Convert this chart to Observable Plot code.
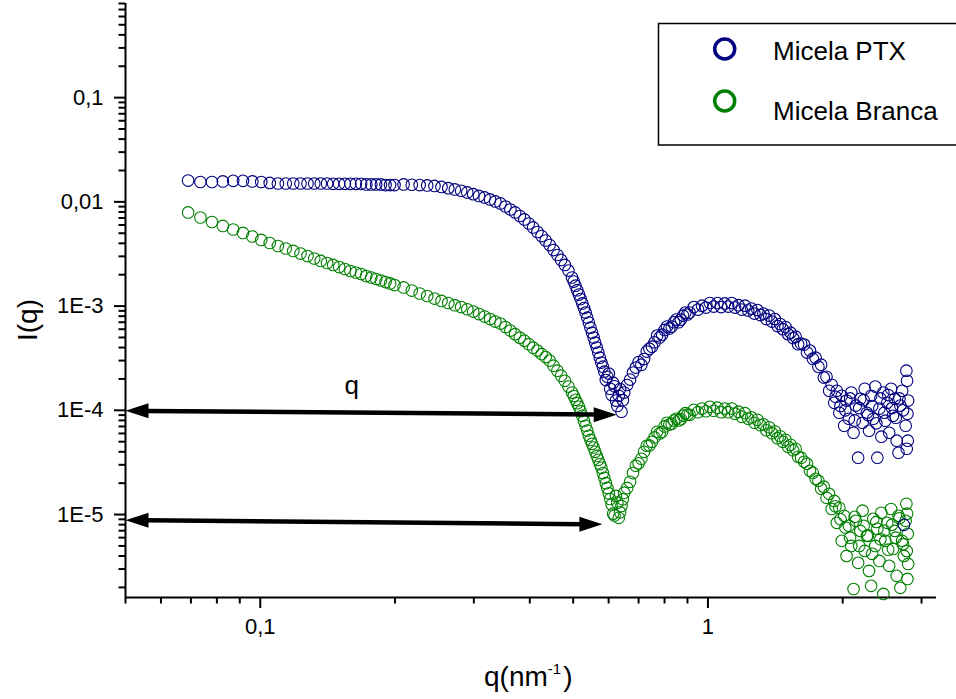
<!DOCTYPE html>
<html>
<head>
<meta charset="utf-8">
<script src="https://cdn.jsdelivr.net/npm/d3@7"></script>
<script src="https://cdn.jsdelivr.net/npm/@observablehq/plot@0.6"></script>
<style>
  html, body { margin: 0; padding: 0; background: #ffffff; }
  svg { display: block; }
</style>
</head>
<body>
<div id="chart"></div>
<script>
// ---------- data ----------
const seriesNames = ["Micela PTX", "Micela Branca"];
const seriesColors = ["#000080", "#008000"];

const qValues = [
  0.069, 0.0735, 0.078, 0.0825, 0.087, 0.0915, 0.096, 0.1005, 0.105, 0.1095,
  0.114, 0.1185, 0.123, 0.1275, 0.132, 0.1365, 0.141, 0.1455, 0.15, 0.1545,
  0.159, 0.1635, 0.168, 0.1725, 0.177, 0.1815, 0.186, 0.1905, 0.195, 0.1995,
  0.209, 0.218, 0.227, 0.236, 0.245, 0.254, 0.263, 0.272, 0.281, 0.29,
  0.299, 0.308, 0.317, 0.326, 0.335, 0.344, 0.353, 0.362, 0.371, 0.38,
  0.389, 0.398, 0.407, 0.416, 0.425, 0.434, 0.443, 0.452, 0.461, 0.47,
  0.479, 0.488, 0.497, 0.506, 0.515, 0.524, 0.533, 0.542, 0.551, 0.56,
  0.569, 0.578, 0.587, 0.596, 0.605, 0.614, 0.623, 0.632, 0.641, 0.65,
  0.67, 0.69, 0.71, 0.73, 0.75, 0.77, 0.79, 0.81, 0.83, 0.85,
  0.87, 0.89, 0.91, 0.93, 0.95, 0.97, 0.99, 1.01, 1.03, 1.05,
  1.07, 1.09, 1.11, 1.13, 1.15, 1.17, 1.19, 1.21, 1.23, 1.25,
  1.27, 1.29, 1.31, 1.33, 1.35, 1.37, 1.39, 1.41, 1.43, 1.45,
  1.47, 1.49, 1.51, 1.53, 1.55, 1.57, 1.59,
  1.615, 1.64, 1.665, 1.69, 1.715, 1.74, 1.765, 1.79, 1.815, 1.84,
  1.865, 1.89, 1.915, 1.94, 1.965, 1.99, 2.015, 2.04, 2.065, 2.09,
  2.115, 2.14, 2.165, 2.19, 2.215, 2.24, 2.265, 2.29, 2.315, 2.34,
  2.365, 2.39, 2.415, 2.44, 2.465, 2.49, 2.515, 2.54, 2.565, 2.59,
  2.615, 2.64, 2.665, 2.69, 2.715, 2.74, 2.765, 2.775, 2.78, 2.785,
  2.79, 2.795, 2.8,
  // in-between points of the steep parts and of the noisy tail
  0.5015, 0.5105, 0.5195, 0.5285, 0.5375, 0.5465, 0.5555, 0.5645, 0.5735, 0.5825,
  0.5915, 0.6005, 0.6095, 0.6185, 0.6275, 0.6365, 0.6455,
  0.66, 0.68, 0.70, 0.72, 0.74, 0.76, 0.78, 0.80, 0.82, 0.84, 0.86, 0.88, 0.90,
  1.9275, 1.9775, 2.0275, 2.0775, 2.1275, 2.1775, 2.2275, 2.2775, 2.3275, 2.3775,
  2.4275, 2.4775, 2.5275, 2.5775, 2.6275, 2.6775, 2.7275
];

const ptxValues = [
  0.0160, 0.0155, 0.0155, 0.0157, 0.0159, 0.0159, 0.0157, 0.0155, 0.0152, 0.0150,
  0.0150, 0.0150, 0.0150, 0.0150, 0.0150, 0.0150, 0.0150, 0.0149, 0.0149, 0.0149,
  0.0149, 0.0149, 0.0149, 0.0147, 0.0147, 0.0147, 0.0147, 0.0145, 0.0145, 0.0145,
  0.0147, 0.0146, 0.0145, 0.01437, 0.01421, 0.0139, 0.01354, 0.01316, 0.01278, 0.01231,
  0.01186, 0.0114, 0.01103, 0.01055, 0.01009, 0.00965, 0.00903, 0.00845, 0.00791, 0.00732,
  0.00678, 0.0062, 0.00568, 0.00514, 0.0047, 0.00426, 0.00385, 0.00345, 0.00309, 0.00277,
  0.00248, 0.00219, 0.00188, 0.00157, 0.00129, 0.00106, 0.000866, 0.000694, 0.000556, 0.000446,
  0.000358, 0.000287, 0.000235, 0.00021, 0.000161, 0.000184, 0.000124, 0.000138, 0.0000969, 0.000148,
  1.97e-4, 2.57e-4, 2.74e-4, 3.66e-4, 4.08e-4, 5.21e-4, 5.32e-4, 6.36e-4, 6.36e-4, 7.42e-4,
  7.42e-4, 8.66e-4, 8.66e-4, 9.78e-4, 9.26e-4, 1.01e-3, 9.67e-4, 1.07e-3, 9.89e-4, 1.07e-3,
  9.78e-4, 1.06e-3, 9.89e-4, 1.07e-3, 9.67e-4, 1.02e-3, 9.26e-4, 1.01e-3, 9.05e-4, 9.46e-4,
  8.47e-4, 9.15e-4, 8.20e-4, 8.47e-4, 7.50e-4, 8.11e-4, 7.10e-4, 7.50e-4, 6.43e-4, 6.72e-4,
  6.01e-4, 6.29e-4, 5.38e-4, 5.56e-4, 4.93e-4, 5.09e-4, 4.31e-4,
  4.36e-4, 4.27e-4, 3.58e-4, 3.74e-4, 3.13e-4, 3.20e-4, 2.62e-4, 2.74e-4, 2.06e-4, 2.10e-4,
  1.54e-4, 1.76e-4, 1.18e-4, 1.54e-4, 9.48e-5, 1.38e-4, 7.11e-5, 1.24e-4, 8.30e-5, 1.48e-4,
  6.09e-5, 1.11e-4, 3.51e-5, 1.29e-4, 7.60e-5, 1.61e-4, 9.48e-5, 6.37e-5, 1.38e-4, 8.30e-5,
  1.69e-4, 3.51e-5, 1.04e-4, 5.58e-5, 1.48e-4, 7.95e-5, 1.18e-4, 6.09e-5, 1.61e-4, 8.87e-5,
  1.29e-4, 5.11e-5, 3.92e-5, 1.11e-4, 1.54e-4, 7.96e-6, 7.11e-5, 2.40e-4, 4.28e-5, 1.92e-4,
  9.28e-5, 5.11e-5, 1.24e-4,
  0.00172, 0.00142, 0.00117, 0.000958, 0.000775, 0.000621, 0.000499, 0.0004, 0.00032, 0.000262,
  0.000195, 0.000225, 0.00014, 0.00017, 0.00011, 0.00016, 0.000125,
  1.75e-4, 2.3e-4, 2.9e-4, 3.1e-4, 3.9e-4, 4.5e-4, 5.0e-4, 5.9e-4, 6.1e-4, 7.0e-4, 7.0e-4, 8.1e-4, 8.3e-4,
  1.35e-4, 1.10e-4, 1.0e-4, 1.3e-4, 8.0e-5, 1.05e-4, 1.25e-4, 9.0e-5, 1.1e-4, 7.5e-5,
  1.3e-4, 9.5e-5, 1.4e-4, 1.05e-4, 8.5e-5, 1.3e-4, 1.0e-4
];

const brancaValues = [
  7.91e-3, 7.08e-3, 6.41e-3, 5.87e-3, 5.43e-3, 5.03e-3, 4.65e-3, 4.31e-3, 4.03e-3, 3.77e-3,
  3.57e-3, 3.38e-3, 3.19e-3, 3.02e-3, 2.86e-3, 2.71e-3, 2.59e-3, 2.48e-3, 2.37e-3, 2.27e-3,
  2.17e-3, 2.10e-3, 2.03e-3, 1.94e-3, 1.88e-3, 1.82e-3, 1.76e-3, 1.70e-3, 1.65e-3, 1.59e-3,
  1.51e-3, 1.41e-3, 1.32e-3, 1.25e-3, 1.18e-3, 1.12e-3, 1.07e-3, 1.02e-3, 9.78e-4, 9.32e-4,
  8.86e-4, 8.38e-4, 7.93e-4, 7.50e-4, 7.10e-4, 6.79e-4, 6.29e-4, 5.82e-4, 5.38e-4, 4.98e-4,
  4.66e-4, 4.31e-4, 3.99e-4, 3.74e-4, 3.46e-4, 3.24e-4, 3.00e-4, 2.68e-4, 2.40e-4, 2.15e-4,
  1.92e-4, 1.69e-4, 1.48e-4, 1.26e-4, 1.08e-4, 8.87e-5, 7.11e-5, 5.70e-5, 4.78e-5, 4.00e-5,
  3.35e-5, 2.81e-5, 2.25e-5, 1.80e-5, 1.41e-5, 1.02e-5, 1.51e-5, 9.30e-6, 1.21e-5, 1.62e-5,
  2.06e-5, 2.94e-5, 3.43e-5, 4.57e-5, 4.99e-5, 6.23e-5, 6.23e-5, 7.60e-5, 7.44e-5, 8.30e-5,
  8.21e-5, 9.38e-5, 9.07e-5, 1.01e-4, 9.59e-5, 1.04e-4, 9.80e-5, 1.08e-4, 9.91e-5, 1.06e-4,
  9.59e-5, 1.04e-4, 9.59e-5, 1.04e-4, 9.28e-5, 9.70e-5, 8.68e-5, 9.38e-5, 8.30e-5, 8.58e-5,
  7.60e-5, 8.12e-5, 7.19e-5, 7.35e-5, 6.44e-5, 6.88e-5, 6.03e-5, 6.30e-5, 5.40e-5, 5.64e-5,
  4.99e-5, 5.22e-5, 4.47e-5, 4.67e-5, 4.14e-5, 4.28e-5, 3.58e-5,
  3.51e-5, 3.21e-5, 3.07e-5, 2.63e-5, 2.52e-5, 2.20e-5, 2.11e-5, 1.77e-5, 1.85e-5, 1.45e-5,
  1.58e-5, 1.13e-5, 1.35e-5, 8.32e-6, 1.16e-5, 5.59e-6, 9.72e-6, 4.01e-6, 7.79e-6, 5.00e-6,
  1.93e-6, 8.70e-6, 3.44e-6, 6.97e-6, 1.09e-5, 4.48e-6, 6.24e-6, 2.88e-6, 2.07e-6, 9.09e-6,
  5.00e-6, 7.29e-6, 3.59e-6, 1.04e-5, 1.73e-6, 5.59e-6, 8.32e-6, 3.22e-6, 1.13e-5, 4.68e-6,
  6.97e-6, 2.58e-6, 9.72e-6, 1.98e-6, 5.59e-6, 4.01e-6, 8.70e-6, 1.27e-5, 4.48e-6, 1.02e-5,
  2.41e-6, 6.53e-6, 3.36e-6,
  1.37e-4, 1.17e-4, 9.8e-5, 7.9e-5, 6.4e-5, 5.2e-5, 4.4e-5, 3.65e-5, 3.05e-5, 2.5e-5,
  2.0e-5, 1.6e-5, 1.25e-5, 9.8e-6, 1.3e-5, 1.05e-5, 1.4e-5,
  1.8e-5, 2.5e-5, 3.1e-5, 4.0e-5, 4.6e-5, 5.5e-5, 6.0e-5, 7.0e-5, 7.3e-5, 8.0e-5, 8.0e-5, 8.9e-5, 9.1e-5,
  1.2e-5, 9.0e-6, 7.5e-6, 6.0e-6, 9.5e-6, 5.0e-6, 7.8e-6, 6.3e-6, 4.2e-6, 8.5e-6,
  5.8e-6, 7.0e-6, 4.6e-6, 8.0e-6, 6.0e-6, 9.2e-6, 5.2e-6
];

// axis ticks and labels
const xTicks = [0.1, 1];
const xTickLabels = ["0,1", "1"];
const xMinorTicks = [0.05, 0.06, 0.07, 0.08, 0.09, 0.2, 0.3, 0.4, 0.5, 0.6, 0.7, 0.8, 0.9, 2, 3];
const yTicks = [1e-5, 1e-4, 1e-3, 0.01, 0.1];
const yTickLabels = ["1E-5", "1E-4", "1E-3", "0,01", "0,1"];
const yMinorTicks = [
  2e-6, 3e-6, 4e-6, 5e-6, 6e-6, 7e-6, 8e-6, 9e-6,
  2e-5, 3e-5, 4e-5, 5e-5, 6e-5, 7e-5, 8e-5, 9e-5,
  2e-4, 3e-4, 4e-4, 5e-4, 6e-4, 7e-4, 8e-4, 9e-4,
  2e-3, 3e-3, 4e-3, 5e-3, 6e-3, 7e-3, 8e-3, 9e-3,
  0.02, 0.03, 0.04, 0.05, 0.06, 0.07, 0.08, 0.09,
  0.2, 0.3, 0.4, 0.5, 0.6, 0.7, 0.8
];
const xDomain = [0.05, 3.24];
const yDomain = [1.6e-6, 0.8];

// annotation arrows (start at the axis, end near the minima)
const arrowStartQ = [0.05, 0.05];
const arrowStartI = [9.9e-5, 8.84e-6];
const arrowEndQ = [0.6255, 0.581];
const arrowEndI = [9.07e-5, 8.05e-6];
const annotationText = ["q"];
const annotationQ = [0.160];
const annotationI = [1.72e-4];

// ---------- build tables ----------
const rows = [];
qValues.forEach((q, i) => rows.push({q, I: brancaValues[i], series: seriesNames[1]}));
qValues.forEach((q, i) => rows.push({q, I: ptxValues[i], series: seriesNames[0]}));
const arrowRows = arrowStartQ.map((q, i) => ({q1: q, i1: arrowStartI[i], q2: arrowEndQ[i], i2: arrowEndI[i]}));
const annotationRows = annotationText.map((t, i) => ({t, q: annotationQ[i], I: annotationI[i]}));

const headRight = {draw(ctx) { ctx.moveTo(0, 0); ctx.lineTo(-23, -7.5); ctx.lineTo(-23, 7.5); ctx.closePath(); }};
const headLeft = {draw(ctx) { ctx.moveTo(0, 0); ctx.lineTo(23, -7.5); ctx.lineTo(23, 7.5); ctx.closePath(); }};

const FONT = "'Liberation Sans', Arial, Helvetica, sans-serif";

const svg = Plot.plot({
  width: 956,
  height: 699,
  marginLeft: 125,
  marginRight: 20,
  marginTop: 3,
  marginBottom: 102,
  x: {type: "log", domain: xDomain, axis: null},
  y: {type: "log", domain: yDomain, axis: null},
  color: {domain: seriesNames, range: seriesColors},
  style: {fontFamily: FONT, fontSize: "22px", color: "black", background: "white", overflow: "visible"},
  marks: [
    Plot.axisY(yMinorTicks, {anchor: "left", tickSize: 6.5, tickFormat: () => "", strokeWidth: 2, label: null}),
    Plot.axisY(yTicks, {anchor: "left", tickSize: 11, tickPadding: 11, strokeWidth: 2, fontSize: 22, label: null,
      tickFormat: d => yTickLabels[yTicks.indexOf(d)]}),
    Plot.axisX(xMinorTicks, {anchor: "bottom", tickSize: 6.5, tickFormat: () => "", strokeWidth: 2, label: null}),
    Plot.axisX(xTicks, {anchor: "bottom", tickSize: 11, tickPadding: 10, strokeWidth: 2, fontSize: 22, label: null,
      tickFormat: d => xTickLabels[xTicks.indexOf(d)]}),
    Plot.ruleX([xDomain[0]], {stroke: "black", strokeWidth: 2}),
    Plot.ruleY([yDomain[0]], {stroke: "black", strokeWidth: 2}),
    Plot.dot(rows, {x: "q", y: "I", stroke: "series", r: 5.8, strokeWidth: 1.1, fill: "none"}),
    Plot.arrow(arrowRows, {x1: "q1", y1: "i1", x2: "q2", y2: "i2", stroke: "black", strokeWidth: 4.5,
      headLength: 0, insetStart: 20, insetEnd: 20, strokeLinecap: "butt"}),
    Plot.dot(arrowRows, {x: "q1", y: "i1", symbol: headLeft, fill: "black"}),
    Plot.dot(arrowRows, {x: "q2", y: "i2", symbol: headRight, fill: "black"}),
    Plot.text(annotationRows, {x: "q", y: "I", text: "t", fontSize: 26, textAnchor: "middle", fill: "black"})
  ]
});

document.getElementById("chart").appendChild(svg);

// ---------- titles and legend ----------
const s = d3.select(svg);
s.append("text")
  .attr("transform", "translate(27,320) rotate(-90)")
  .attr("text-anchor", "middle")
  .attr("dominant-baseline", "central")
  .attr("font-family", FONT).attr("font-size", 28).attr("fill", "black")
  .text("I(q)");

const xt = s.append("text")
  .attr("x", 484).attr("y", 686)
  .attr("text-anchor", "start")
  .attr("font-family", FONT).attr("font-size", 28).attr("fill", "black");
xt.append("tspan").text("q(nm");
xt.append("tspan").attr("font-size", 15).attr("dy", -12).text("-1");
xt.append("tspan").attr("dy", 12).attr("dx", 2).text(")");

const lg = s.append("g").attr("text-anchor", "start");
lg.append("rect").attr("x", 658.5).attr("y", 23.5).attr("width", 320).attr("height", 121.5)
  .attr("fill", "none").attr("stroke", "black").attr("stroke-width", 1.5);
const legendY = [49, 101];
const legendTextY = [60, 120];
seriesNames.forEach((name, i) => {
  lg.append("circle").attr("cx", 724.7).attr("cy", legendY[i]).attr("r", 10)
    .attr("fill", "none").attr("stroke", seriesColors[i]).attr("stroke-width", 3.5);
  lg.append("text").attr("x", 773).attr("y", legendTextY[i]).attr("text-anchor", "start")
    .attr("font-family", FONT).attr("font-size", 26).attr("fill", "black").text(name);
});
</script>
</body>
</html>
